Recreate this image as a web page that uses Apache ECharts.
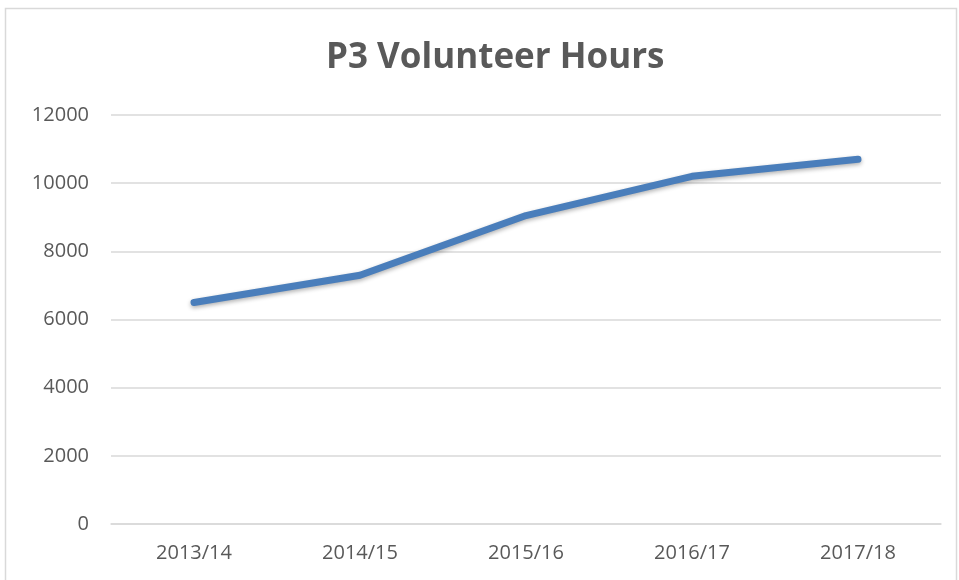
<!DOCTYPE html>
<html><head><meta charset="utf-8">
<script src="https://cdn.jsdelivr.net/npm/echarts@6/dist/echarts.min.js"></script>
<style>html,body{margin:0;padding:0;background:#fff}#c{width:959px;height:580px}</style>
</head><body><div id="c"></div>
<script>
const categories = ['2013/14','2014/15','2015/16','2016/17','2017/18'];
const hours = [6500, 7300, 9050, 10200, 10700];
const yTicks = [0, 2000, 4000, 6000, 8000, 10000, 12000];

const chart = echarts.init(document.getElementById('c'));
chart.setOption({
  animation: false,
  backgroundColor: '#fff',
  graphic: [{type:'rect', shape:{x:5.5,y:8.5,width:951,height:580}, style:{fill:'none', stroke:'#d9d9d9', lineWidth:1.5}, silent:true}],
  title: {text:'P3 Volunteer Hours', left:321, top:36,
    textStyle:{fontFamily:'Open Sans', fontWeight:'bold', fontSize:35, color:'#595959'}},
  grid: {left:111, right:18, top:115, bottom:56},
  xAxis: {type:'category', data:categories, boundaryGap:true,
    axisLine:{lineStyle:{color:'#d9d9d9', width:1.5}}, axisTick:{show:false},
    axisLabel:{color:'#595959', fontSize:20, fontFamily:'Open Sans', margin:19}},
  yAxis: {type:'value', min:yTicks[0], max:yTicks[yTicks.length-1], interval:2000,
    axisLine:{show:false}, axisTick:{show:false},
    splitLine:{lineStyle:{color:'#d9d9d9', width:1.5}},
    axisLabel:{color:'#595959', fontSize:20, fontFamily:'Open Sans', margin:22,
      formatter: v => String(v)}},
  series: [{type:'line', data:hours, symbol:'none',
    lineStyle:{color:'#4a7ebb', width:7, cap:'round', join:'round',
      shadowColor:'rgba(0,0,0,0.3)', shadowBlur:4, shadowOffsetY:2}}]
});
</script></body></html>
